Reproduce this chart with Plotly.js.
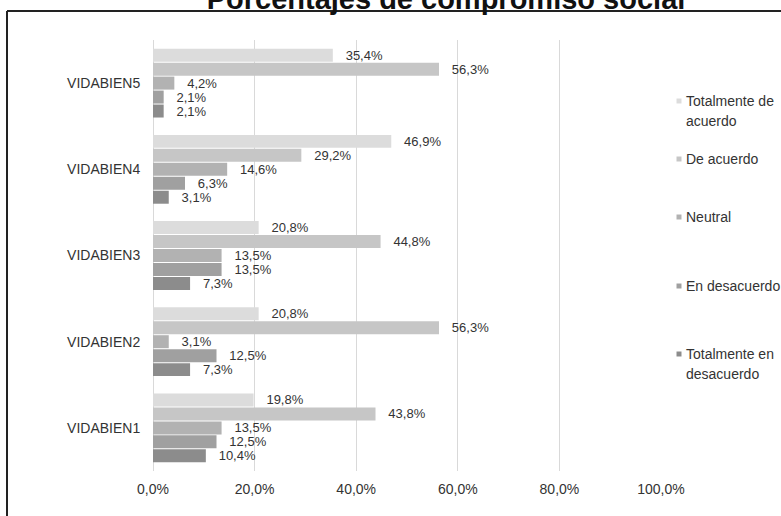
<!DOCTYPE html>
<html>
<head>
<meta charset="utf-8">
<script src="https://cdn.plot.ly/plotly-3.0.1.min.js"></script>
<style>
  html, body { margin: 0; padding: 0; background: #ffffff; }
  #chart { width: 781px; height: 516px; }
</style>
</head>
<body>
<div id="chart"></div>
<script>
// ---- Data ----
const categories = ['VIDABIEN1', 'VIDABIEN2', 'VIDABIEN3', 'VIDABIEN4', 'VIDABIEN5'];
const seriesNames = ['Totalmente de acuerdo', 'De acuerdo', 'Neutral', 'En desacuerdo', 'Totalmente en desacuerdo'];
const totalmenteDeAcuerdo   = [19.8, 20.8, 20.8, 46.9, 35.4];
const deAcuerdo             = [43.8, 56.3, 44.8, 29.2, 56.3];
const neutral               = [13.5, 3.1, 13.5, 14.6, 4.2];
const enDesacuerdo          = [12.5, 12.5, 13.5, 6.3, 2.1];
const totalmenteEnDesacuerdo = [10.4, 7.3, 7.3, 3.1, 2.1];
const xTickValues = [0, 20, 40, 60, 80, 100];
const xTickLabels = ['0,0%', '20,0%', '40,0%', '60,0%', '80,0%', '100,0%'];
const legendLines = [['Totalmente de', 'acuerdo'], ['De acuerdo'], ['Neutral'], ['En desacuerdo'], ['Totalmente en', 'desacuerdo']];

// ---- Styles ----
const colors = ['#dcdcdc', '#c6c6c6', '#b2b2b2', '#a0a0a0', '#8c8c8c'];
const FONT = '"Liberation Sans", Arial, sans-serif';
const textColor = '#333333';
const FS = 14;
const LABEL_FS = 13;

const W = 781, H = 516;
const M = {l: 153, r: 120, t: 40, b: 45};
const plotW = W - M.l - M.r, plotH = H - M.t - M.b;
const px2x = p => (p - M.l) / plotW;
const py2y = p => (H - M.b - p) / plotH;

const values = [totalmenteDeAcuerdo, deAcuerdo, neutral, enDesacuerdo, totalmenteEnDesacuerdo];

// Plotly places grouped horizontal bars bottom-up, so add in reverse order.
const traces = [];
for (let i = values.length - 1; i >= 0; i--) {
  traces.push({
    type: 'bar',
    orientation: 'h',
    name: seriesNames[i],
    y: categories,
    x: values[i],
    marker: {color: colors[i], line: {width: 0}},
    texttemplate: '\u00a0\u00a0\u2009%{x:.1f}%',
    textposition: 'outside',
    constraintext: 'none',
    cliponaxis: false,
    textfont: {family: FONT, size: LABEL_FS, color: textColor},
    showlegend: false,
    hoverinfo: 'skip'
  });
}

// Legend drawn as keys + text (positions in pixels of the reference)
const legendY = [101, 159, 217, 286, 354];
const lineGap = 20;
const shapes = [];
const annotations = [];
legendLines.forEach((lines, i) => {
  const cy = legendY[i];
  shapes.push({
    type: 'rect', xref: 'paper', yref: 'paper',
    x0: px2x(676.5), x1: px2x(681.5), y0: py2y(cy - 2.5), y1: py2y(cy + 2.5),
    fillcolor: colors[i], line: {width: 0}, layer: 'above'
  });
  lines.forEach((t, k) => {
    annotations.push({
      xref: 'paper', yref: 'paper', x: px2x(684), y: py2y(cy + k * lineGap),
      xanchor: 'left', yanchor: 'middle', showarrow: false, text: t,
      font: {family: FONT, size: FS, color: textColor}
    });
  });
});

// Outer frame (top and left edges visible in the reference)
shapes.push({type: 'line', xref: 'paper', yref: 'paper',
  x0: px2x(7), x1: px2x(790), y0: py2y(11), y1: py2y(11),
  line: {color: '#222222', width: 2}});
shapes.push({type: 'line', xref: 'paper', yref: 'paper',
  x0: px2x(7), x1: px2x(7), y0: py2y(11), y1: py2y(530),
  line: {color: '#222222', width: 2}});

const layout = {
  width: W, height: H,
  margin: M,
  paper_bgcolor: '#ffffff',
  plot_bgcolor: '#ffffff',
  font: {family: FONT, size: FS, color: textColor},
  title: {
    text: 'Porcentajes de compromiso social',
    font: {family: FONT, size: 29, color: '#111111', weight: 'bold'},
    xref: 'container', x: 446 / W, xanchor: 'center',
    yref: 'container', y: 1 - 9 / H, yanchor: 'bottom'
  },
  barmode: 'group',
  bargap: 0.19,
  bargroupgap: 0.07,
  xaxis: {
    range: [0, 100],
    tickmode: 'array',
    tickvals: xTickValues,
    ticktext: xTickLabels,
    showgrid: true,
    gridcolor: '#d9d9d9',
    gridwidth: 1,
    zeroline: true,
    zerolinecolor: '#d9d9d9',
    zerolinewidth: 1,
    showline: false,
    ticks: 'outside',
    ticklen: 5,
    tickcolor: 'rgba(0,0,0,0)',
    tickfont: {family: FONT, size: FS, color: textColor},
    fixedrange: true
  },
  yaxis: {
    type: 'category',
    categoryorder: 'array',
    categoryarray: categories,
    showgrid: false,
    zeroline: false,
    showline: false,
    ticks: 'outside',
    ticklen: 9,
    tickcolor: 'rgba(0,0,0,0)',
    tickfont: {family: FONT, size: FS, color: textColor},
    fixedrange: true
  },
  separators: ',.',
  shapes: shapes,
  annotations: annotations,
  showlegend: false
};

Plotly.newPlot('chart', traces, layout, {displayModeBar: false, staticPlot: true});
</script>
</body>
</html>
